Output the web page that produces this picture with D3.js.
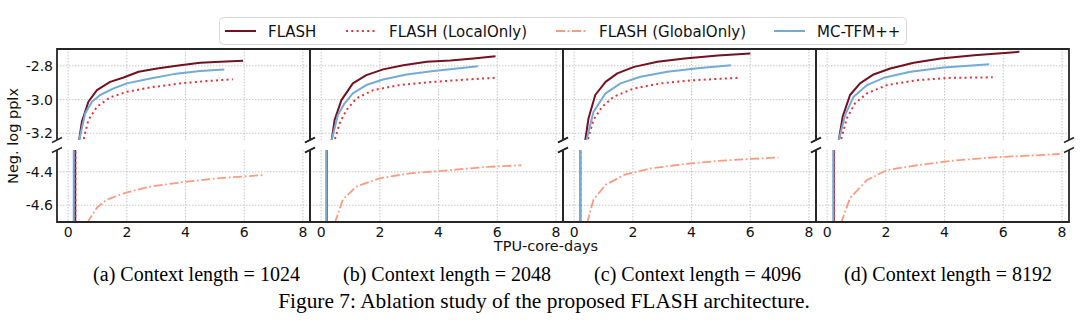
<!DOCTYPE html>
<html>
<head>
<meta charset="utf-8">
<script src="https://cdn.jsdelivr.net/npm/d3@7"></script>
<style>
  body { margin: 0; background: #fff; }
  svg { display: block; }
</style>
</head>
<body>
<script>
const W = 1080, H = 331;

// series order = legend order
const seriesNames = ["FLASH", "FLASH (LocalOnly)", "FLASH (GlobalOnly)", "MC-TFM++"];
const contextLengths = ["1024", "2048", "4096", "8192"];
const xTicks = [0, 2, 4, 6, 8];
const upperTicks = [-2.8, -3.0, -3.2];
const lowerTicks = [-4.4, -4.6];

// [TPU-core-days, neg. log pplx] per panel
const flash = [
  [[0.24,-6],[0.24,-4.2],[0.375,-3.24],[0.47,-3.13],[0.69,-3.013],[0.98,-2.944],[1.43,-2.895],[1.89,-2.869],[2.4,-2.835],[3.03,-2.816],[3.82,-2.796],[4.5,-2.782],[5.19,-2.776],[5.96,-2.77]],
  [[0.19,-6],[0.19,-4.2],[0.36,-3.24],[0.46,-3.121],[0.69,-3.003],[1.08,-2.904],[1.54,-2.855],[2.11,-2.821],[2.8,-2.796],[3.6,-2.776],[4.4,-2.768],[5.19,-2.756],[5.94,-2.743]],
  [[0.21,-6],[0.21,-4.2],[0.38,-3.24],[0.49,-3.111],[0.72,-2.973],[1.07,-2.895],[1.47,-2.845],[2.04,-2.806],[2.84,-2.776],[3.76,-2.756],[4.9,-2.739],[6.0,-2.727]],
  [[0.23,-6],[0.23,-4.2],[0.4,-3.24],[0.53,-3.101],[0.78,-2.973],[1.12,-2.904],[1.58,-2.851],[2.15,-2.816],[2.95,-2.782],[3.87,-2.756],[5.01,-2.737],[6.55,-2.717]]
];
const localOnly = [
  [[0.25,-6],[0.25,-4.2],[0.52,-3.24],[0.69,-3.121],[0.98,-3.043],[1.43,-2.987],[2.0,-2.954],[2.8,-2.928],[3.82,-2.904],[4.73,-2.89],[5.61,-2.88]],
  [[0.2,-6],[0.2,-4.2],[0.46,-3.24],[0.63,-3.141],[0.86,-3.062],[1.2,-2.993],[1.77,-2.944],[2.68,-2.914],[3.83,-2.895],[4.97,-2.881],[5.94,-2.871]],
  [[0.21,-6],[0.21,-4.2],[0.46,-3.24],[0.66,-3.121],[0.95,-3.043],[1.35,-2.983],[2.04,-2.934],[2.95,-2.904],[4.1,-2.885],[5.58,-2.871]],
  [[0.24,-6],[0.24,-4.2],[0.47,-3.24],[0.67,-3.111],[0.95,-3.022],[1.36,-2.963],[2.04,-2.914],[3.07,-2.885],[4.21,-2.871],[5.64,-2.868]]
];
const globalOnly = [
  [[0.6,-4.9],[0.69,-4.694],[0.98,-4.615],[1.32,-4.566],[2.0,-4.523],[2.8,-4.488],[4.05,-4.459],[5.07,-4.439],[6.7,-4.419]],
  [[0.42,-4.9],[0.49,-4.694],[0.74,-4.566],[1.2,-4.488],[2.0,-4.439],[3.03,-4.409],[4.4,-4.39],[5.66,-4.371],[6.82,-4.361]],
  [[0.4,-4.9],[0.46,-4.694],[0.66,-4.566],[1.07,-4.478],[1.7,-4.419],[2.61,-4.38],[3.76,-4.354],[4.9,-4.335],[6.05,-4.323],[6.96,-4.315]],
  [[0.43,-4.9],[0.5,-4.694],[0.78,-4.556],[1.36,-4.449],[2.04,-4.39],[3.07,-4.361],[4.21,-4.335],[5.58,-4.315],[7.07,-4.302],[7.92,-4.294]]
];
const mcTfm = [
  [[0.19,-6],[0.19,-4.2],[0.375,-3.24],[0.58,-3.082],[0.81,-3.013],[1.09,-2.973],[1.55,-2.934],[2.0,-2.904],[2.8,-2.875],[3.6,-2.849],[4.5,-2.831],[5.32,-2.821]],
  [[0.18,-6],[0.18,-4.2],[0.36,-3.24],[0.57,-3.092],[0.8,-3.022],[1.08,-2.963],[1.54,-2.914],[2.11,-2.881],[2.91,-2.851],[3.83,-2.83],[4.63,-2.816],[5.34,-2.802]],
  [[0.2,-6],[0.2,-4.2],[0.42,-3.24],[0.66,-3.072],[1.07,-2.963],[1.58,-2.904],[2.26,-2.865],[3.18,-2.835],[4.21,-2.814],[5.34,-2.796]],
  [[0.21,-6],[0.21,-4.2],[0.4,-3.24],[0.61,-3.092],[0.9,-2.983],[1.36,-2.914],[1.93,-2.871],[2.84,-2.835],[3.98,-2.81],[5.52,-2.79]]
];

const seriesData = [flash, localOnly, globalOnly, mcTfm];
const styles = [
  { color: "#74101f", width: 2, dash: null },
  { color: "#ec2f36", width: 2, dash: "2,3.3" },
  { color: "#fd9a80", width: 1.8, dash: "9,2.6,1.8,2.6" },
  { color: "#74aad6", width: 2, dash: null }
];

const svg = d3.select("body").append("svg")
  .attr("width", W)
  .attr("height", H)
  .style("font-family", "'DejaVu Sans', sans-serif");

const panelLeft = 57, panelW = 253;
const upperTop = 49, upperBot = 140, lowerTop = 150, lowerBot = 222;

const x = d3.scaleLinear().domain([-0.38, 8.24]).range([0, panelW]);
const yUp = d3.scaleLinear().domain([-3.24, -2.70]).range([upperBot, upperTop]);
const yLo = d3.scaleLinear().domain([-4.70, -4.27]).range([lowerBot, lowerTop]);

const defs = svg.append("defs");

contextLengths.forEach(function (len, i) {
  const left = panelLeft + i * panelW;
  const g = svg.append("g").attr("transform", "translate(" + left + ",0)");

  [["u", yUp, upperTop, upperBot, upperTicks], ["l", yLo, lowerTop, lowerBot, lowerTicks]].forEach(function (p) {
    const id = "clip" + p[0] + i;
    defs.append("clipPath").attr("id", id)
      .append("rect").attr("x", left).attr("y", p[2]).attr("width", panelW).attr("height", p[3] - p[2]);

    // grid
    const grid = g.append("g").attr("stroke", "#b8b8b8").attr("stroke-width", 0.8).attr("stroke-dasharray", "1.5,1.5");
    grid.selectAll(".vx").data(xTicks).enter().append("line")
      .attr("x1", d => x(d)).attr("x2", d => x(d))
      .attr("y1", p[2]).attr("y2", p[3]);
    grid.selectAll(".hy").data(p[4]).enter().append("line")
      .attr("x1", 0).attr("x2", panelW)
      .attr("y1", d => p[1](d)).attr("y2", d => p[1](d));

    const line = d3.line().x(d => x(d[0])).y(d => p[1](d[1]));
    const lg = svg.append("g").attr("clip-path", "url(#" + id + ")")
      .append("g").attr("transform", "translate(" + left + ",0)");
    seriesData.forEach(function (s, k) {
      lg.append("path")
        .attr("d", line(s[i]))
        .attr("fill", "none")
        .attr("stroke", styles[k].color)
        .attr("stroke-width", styles[k].width)
        .attr("stroke-dasharray", styles[k].dash)
        .attr("stroke-linejoin", "round");
    });
  });

  // spines
  const sp = svg.append("g").attr("transform", "translate(" + left + ",0)")
    .attr("stroke", "#262626").attr("stroke-width", 1.8).attr("fill", "none");
  sp.append("path").attr("d", "M0," + upperBot + "V" + upperTop + "H" + panelW + "V" + upperBot);
  sp.append("path").attr("d", "M0," + lowerTop + "V" + lowerBot + "H" + panelW + "V" + lowerTop);
  // break marks
  [0, panelW].forEach(function (bx) {
    [upperBot, lowerTop].forEach(function (by) {
      sp.append("line").attr("x1", bx - 5).attr("y1", by + 2.5).attr("x2", bx + 5).attr("y2", by - 2.5)
        .attr("stroke-width", 1.5);
    });
  });

  // x tick labels
  g.selectAll(".xt").data(xTicks).enter().append("text")
    .attr("x", d => x(d)).attr("y", 237)
    .attr("text-anchor", "middle")
    .attr("font-size", 14).attr("fill", "#111")
    .text(d => d);

  // subcaption
  svg.append("text")
    .attr("x", left + panelW / 2 + 13 - i * 2.5)
    .attr("y", 281)
    .attr("text-anchor", "middle")
    .attr("font-family", "'Liberation Serif', 'Times New Roman', serif")
    .attr("font-size", 20).attr("fill", "#000")
    .text("(" + "abcd"[i] + ") Context length = " + len);
});

// y tick labels (first panel only)
const yl = svg.append("g").attr("font-size", 14).attr("fill", "#111").attr("text-anchor", "end");
upperTicks.forEach(function (t) {
  yl.append("text").attr("x", 53).attr("y", yUp(t) + 5).text(t.toFixed(1));
});
lowerTicks.forEach(function (t) {
  yl.append("text").attr("x", 53).attr("y", yLo(t) + 5).text(t.toFixed(1));
});

svg.append("text")
  .attr("transform", "translate(18,136) rotate(-90)")
  .attr("text-anchor", "middle")
  .attr("font-size", 14.5).attr("fill", "#111")
  .text("Neg. log pplx");

svg.append("text")
  .attr("x", 546).attr("y", 251)
  .attr("text-anchor", "middle")
  .attr("font-size", 14.5).attr("fill", "#111")
  .text("TPU-core-days");

// legend
const legend = svg.append("g");
legend.append("rect")
  .attr("x", 219.5).attr("y", 17.5).attr("width", 687).attr("height", 27)
  .attr("rx", 4).attr("fill", "#fff").attr("stroke", "#d8d8d8");
const legendX = [225, 346, 556, 774];
seriesNames.forEach(function (name, k) {
  legend.append("line")
    .attr("x1", legendX[k]).attr("x2", legendX[k] + 31)
    .attr("y1", 31).attr("y2", 31)
    .attr("stroke", styles[k].color)
    .attr("stroke-width", styles[k].width)
    .attr("stroke-dasharray", styles[k].dash);
  legend.append("text")
    .attr("x", legendX[k] + 43).attr("y", 36.5)
    .attr("font-size", 15).attr("fill", "#111")
    .text(name);
});

svg.append("text")
  .attr("x", 544).attr("y", 308)
  .attr("text-anchor", "middle")
  .attr("font-family", "'Liberation Serif', 'Times New Roman', serif")
  .attr("font-size", 21.4).attr("fill", "#000")
  .text("Figure 7: Ablation study of the proposed FLASH architecture.");
</script>
</body>
</html>
